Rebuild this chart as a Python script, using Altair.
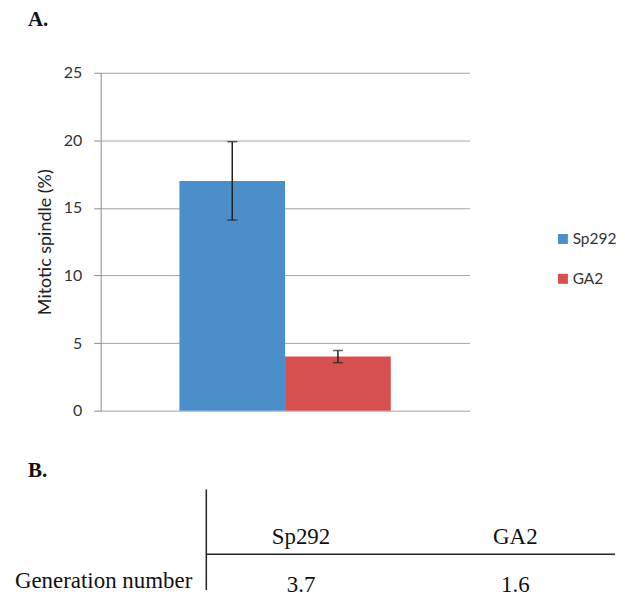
import altair as alt
import pandas as pd

# ---- data ----
strains = ["Sp292", "GA2"]
mitotic_pct = [17.0, 4.0]
mitotic_err = [2.9, 0.45]
generation = ["3.7", "1.6"]
bar_colors = ["#4b8fca", "#d6504f"]
y_ticks = [0, 5, 10, 15, 20, 25]
row_label = ["Generation number"]
table_rows = ["header", "value"]

SANS = "Lato"
SERIF = "Liberation Serif"
Y_TITLE = "Mitotic spindle (%)"

df_a = pd.DataFrame({"strain": strains, "pct": mitotic_pct, "err": mitotic_err})
df_a["lo"] = df_a["pct"] - df_a["err"]
df_a["hi"] = df_a["pct"] + df_a["err"]

x_a = alt.X("strain:N", sort=strains,
            scale=alt.Scale(domain=strains, paddingInner=0, paddingOuter=0.745),
            axis=None)
y_scale = alt.Scale(domain=[0, 25])
y_axis = alt.Axis(values=y_ticks, grid=True, gridColor="#a3a3a3", gridWidth=1,
                  domainColor="#8c8c8c", tickColor="#8c8c8c", tickSize=7,
                  labelFont=SANS, labelFontSize=16, labelColor="#333333",
                  labelPadding=12, titleFont=SANS, titleFontSize=18,
                  titleFontWeight="normal", titleColor="#222222", titlePadding=9)

bars = alt.Chart(df_a).mark_bar().encode(
    x=x_a,
    y=alt.Y("pct:Q", scale=y_scale, axis=y_axis, title=Y_TITLE),
    color=alt.Color("strain:N", sort=strains,
                    scale=alt.Scale(domain=strains, range=bar_colors),
                    legend=alt.Legend(title=None, orient="none", legendX=456, legendY=159,
                                      symbolType="square", symbolSize=100,
                                      symbolStrokeWidth=0, symbolOpacity=1,
                                      labelFont=SANS, labelFontSize=15.5,
                                      labelColor="#333333", rowPadding=23,
                                      labelOffset=2)),
)
err_rule = alt.Chart(df_a).mark_rule(color="#222222", strokeWidth=1.5).encode(
    x=x_a, y=alt.Y("lo:Q", scale=y_scale, title=Y_TITLE), y2="hi:Q")
cap_hi = alt.Chart(df_a).mark_tick(color="#222222", thickness=1.5, size=10).encode(
    x=x_a, y=alt.Y("hi:Q", scale=y_scale, title=Y_TITLE))
cap_lo = alt.Chart(df_a).mark_tick(color="#222222", thickness=1.5, size=10).encode(
    x=x_a, y=alt.Y("lo:Q", scale=y_scale, title=Y_TITLE))

chart_a = alt.layer(bars, err_rule, cap_hi, cap_lo).properties(
    width=370, height=339,
    title=alt.TitleParams("A.", anchor="start", frame="group", dx=-73, font=SERIF,
                          fontSize=21, fontWeight="bold", color="#111111", offset=35),
)

# ---- table (part B) ----
df_head = pd.DataFrame({"col": strains, "row": ["header"] * len(strains), "label": strains})
df_vals = pd.DataFrame({"col": strains, "row": ["value"] * len(strains), "label": generation})
df_rowlab = pd.DataFrame({"col": [strains[0]], "row": ["value"], "label": row_label})
df_line = pd.DataFrame({"col": [strains[0]], "row": ["value"]})

x_b_scale = alt.Scale(domain=strains, paddingInner=0.1163, paddingOuter=0.258, align=0.955)
y_b_scale = alt.Scale(domain=table_rows, paddingInner=0, paddingOuter=0.40278, align=1)


def xb(pos=0.5):
    return alt.X("col:N", sort=strains, scale=x_b_scale, axis=None, bandPosition=pos)


def yb(pos=0.5):
    return alt.Y("row:N", sort=table_rows, scale=y_b_scale, axis=None, bandPosition=pos)


txt = dict(font=SERIF, fontSize=23, baseline="alphabetic", color="#111111")
head = alt.Chart(df_head).mark_text(dy=-10, **txt).encode(x=xb(), y=yb(1), text="label:N")
vals = alt.Chart(df_vals).mark_text(dy=2, **txt).encode(x=xb(), y=yb(1), text="label:N")
rowlab = alt.Chart(df_rowlab).mark_text(dy=-2, dx=-14, align="right", **txt).encode(
    x=xb(0), y=yb(1), text="label:N")
vline = alt.Chart(df_line).mark_rule(color="#222222", strokeWidth=1.5).encode(x=xb(0))
hline = alt.Chart(df_line).mark_rule(color="#222222", strokeWidth=1.5).encode(
    x=xb(0), x2=alt.value("width"), y=yb(0))

chart_b = alt.layer(vline, hline, head, vals, rowlab).properties(
    width=516, height=101,
    title=alt.TitleParams("B.", anchor="start", frame="group", dx=-73, font=SERIF,
                          fontSize=21, fontWeight="bold", color="#111111", offset=8),
)

chart = alt.vconcat(chart_a, chart_b, spacing=41).resolve_scale(
    color="independent", x="independent", y="independent"
).configure_view(stroke=None).properties(
    padding={"left": 6, "top": 0, "right": 0, "bottom": 0}
)

chart.save("out.html", embed_options={"renderer": "svg", "actions": False})
